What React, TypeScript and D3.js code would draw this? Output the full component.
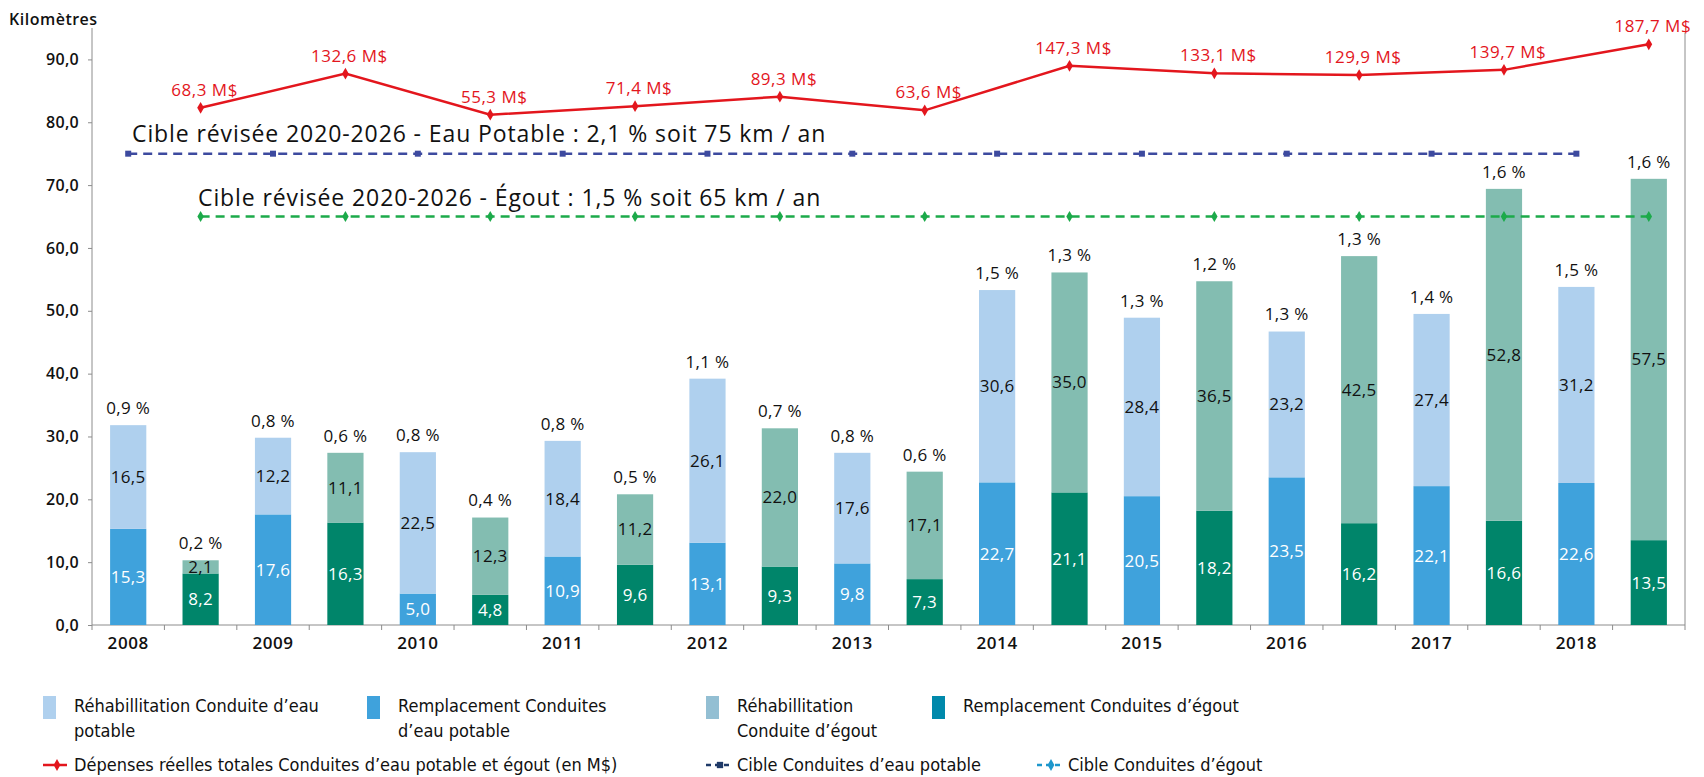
import React, { useRef, useEffect } from "react";
import * as d3 from "d3";

// Kilomètres de conduites, par année
const years = ["2008", "2009", "2010", "2011", "2012", "2013", "2014", "2015", "2016", "2017", "2018"];
const eauRemplacement = [15.3, 17.6, 5.0, 10.9, 13.1, 9.8, 22.7, 20.5, 23.5, 22.1, 22.6];
const eauRehabilitation = [16.5, 12.2, 22.5, 18.4, 26.1, 17.6, 30.6, 28.4, 23.2, 27.4, 31.2];
const egoutRemplacement = [8.2, 16.3, 4.8, 9.6, 9.3, 7.3, 21.1, 18.2, 16.2, 16.6, 13.5];
const egoutRehabilitation = [2.1, 11.1, 12.3, 11.2, 22.0, 17.1, 35.0, 36.5, 42.5, 52.8, 57.5];
const pctEau = ["0,9 %", "0,8 %", "0,8 %", "0,8 %", "1,1 %", "0,8 %", "1,5 %", "1,3 %", "1,3 %", "1,4 %", "1,5 %"];
const pctEgout = ["0,2 %", "0,6 %", "0,4 %", "0,5 %", "0,7 %", "0,6 %", "1,3 %", "1,2 %", "1,3 %", "1,6 %", "1,6 %"];
const depenses = [68.3, 132.6, 55.3, 71.4, 89.3, 63.6, 147.3, 133.1, 129.9, 139.7, 187.7];
const cibleEau = 75;
const cibleEgout = 65;
const yTicks = [0, 10, 20, 30, 40, 50, 60, 70, 80, 90];

const FONT = "'Open Sans', sans-serif";
const LEGEND_FONT = "'Liberation Sans Narrow', 'DejaVu Sans Condensed', Roboto, sans-serif";

const fmt = (v: number) => v.toFixed(1).replace(".", ",");

const App = () => {
  const svgRef = useRef<SVGSVGElement>(null);

  useEffect(() => {
    const svg = d3.select(svgRef.current);
    svg.selectAll("*").remove();

    const left = 92;
    const right = 1685;
    const top = 28;
    const bottom = 625;

    const keys: string[] = [];
    years.forEach((yr) => keys.push(yr + "-eau", yr + "-egout"));

    const x = d3.scaleBand().domain(keys).range([left, right]).paddingInner(0.5).paddingOuter(0.25);
    const y = d3.scaleLinear().domain([0, 95]).range([bottom, top]);
    // échelle secondaire (M$), non affichée
    const ySpend = d3.scaleLinear().domain([0, 200]).range([y(76.52), y(93.44)]);
    const bw = x.bandwidth();
    const cx = (k: string) => (x(k) as number) + bw / 2;

    const g = svg.append("g");

    // axes
    g.append("line").attr("x1", left).attr("x2", left).attr("y1", top).attr("y2", bottom).attr("stroke", "#8c8c8c");
    g.append("line").attr("x1", right).attr("x2", right).attr("y1", top + 5).attr("y2", bottom).attr("stroke", "#8c8c8c");
    g.append("line").attr("x1", left).attr("x2", right).attr("y1", bottom).attr("y2", bottom).attr("stroke", "#8c8c8c");

    const yAxis = d3
      .axisLeft(y)
      .tickValues(yTicks)
      .tickSize(4)
      .tickSizeOuter(0)
      .tickPadding(9)
      .tickFormat((d) => fmt(d as number));
    const ya = g.append("g").attr("transform", `translate(${left},0)`).call(yAxis);
    ya.select(".domain").remove();
    ya.selectAll("line").attr("stroke", "#8c8c8c");
    ya.selectAll("text")
      .attr("fill", "#111")
      .style("font-family", FONT)
      .style("font-size", "16px")
      .style("font-weight", "600")
      .style("letter-spacing", "0.3px");

    // ticks entre les catégories
    const step = x.step();
    d3.range(keys.length + 1).forEach((i) => {
      g.append("line")
        .attr("x1", left + i * step)
        .attr("x2", left + i * step)
        .attr("y1", bottom)
        .attr("y2", bottom + 5)
        .attr("stroke", "#8c8c8c");
    });

    g.selectAll(".year")
      .data(years)
      .enter()
      .append("text")
      .attr("x", (d) => cx(d + "-eau"))
      .attr("y", bottom + 24)
      .attr("text-anchor", "middle")
      .attr("fill", "#111")
      .style("font-family", FONT)
      .style("font-size", "17px")
      .style("font-weight", "600")
      .style("letter-spacing", "0.6px")
      .text((d) => d);

    g.append("text")
      .attr("x", 9)
      .attr("y", 25)
      .attr("fill", "#111")
      .style("font-family", FONT)
      .style("font-size", "16px")
      .style("font-weight", "600")
      .style("letter-spacing", "0.5px")
      .text("Kilomètres");

    // barres empilées
    const stacks = [
      { suffix: "-eau", low: eauRemplacement, high: eauRehabilitation, cLow: "#3fa2dc", cHigh: "#afd0ee", pct: pctEau },
      { suffix: "-egout", low: egoutRemplacement, high: egoutRehabilitation, cLow: "#00856a", cHigh: "#83bdb1", pct: pctEgout },
    ];

    const label = (sel: d3.Selection<SVGTextElement, unknown, null, undefined>, color: string) =>
      sel
        .attr("text-anchor", "middle")
        .attr("dy", "0.35em")
        .attr("fill", color)
        .style("font-family", FONT)
        .style("font-size", "17px")
        .style("font-weight", "500")
        .style("letter-spacing", "0.3px");

    stacks.forEach((s) => {
      years.forEach((yr, i) => {
        const k = yr + s.suffix;
        const lo = s.low[i];
        const hi = s.high[i];
        g.append("rect")
          .attr("x", x(k) as number)
          .attr("y", y(lo))
          .attr("width", bw)
          .attr("height", y(0) - y(lo))
          .attr("fill", s.cLow);
        g.append("rect")
          .attr("x", x(k) as number)
          .attr("y", y(lo + hi))
          .attr("width", bw)
          .attr("height", y(lo) - y(lo + hi))
          .attr("fill", s.cHigh);

        label(g.append("text").attr("x", cx(k)).attr("y", y(lo / 2)), "#fff").text(fmt(lo));
        label(g.append("text").attr("x", cx(k)).attr("y", y(lo + hi / 2)), "#111").text(fmt(hi));
        label(g.append("text").attr("x", cx(k)).attr("y", y(lo + hi) - 17), "#111").text(s.pct[i]);
      });
    });

    // cibles
    const cibles = [
      { suffix: "-eau", value: cibleEau, color: "#3d4a9f", shape: d3.symbolSquare },
      { suffix: "-egout", value: cibleEgout, color: "#1caa4a", shape: d3.symbolDiamond },
    ];
    cibles.forEach((c) => {
      const pts = years.map((yr) => [cx(yr + c.suffix), y(c.value)] as [number, number]);
      g.append("path")
        .attr("d", d3.line()(pts) as string)
        .attr("fill", "none")
        .attr("stroke", c.color)
        .attr("stroke-width", 2.5)
        .attr("stroke-dasharray", "9,6");
      pts.forEach((p) => {
        g.append("path")
          .attr("d", d3.symbol().type(c.shape).size(36)() as string)
          .attr("transform", `translate(${p[0]},${p[1]})`)
          .attr("fill", c.color);
      });
    });

    const annot = [
      { text: "Cible révisée 2020-2026 - Eau Potable : 2,1 % soit 75 km / an", x: 132, y: 142 },
      { text: "Cible révisée 2020-2026 - Égout : 1,5 % soit 65 km / an", x: 198, y: 206 },
    ];
    annot.forEach((a) => {
      g.append("text")
        .attr("x", a.x)
        .attr("y", a.y)
        .attr("fill", "#111")
        .style("font-family", FONT)
        .style("font-size", "23px")
        .style("font-weight", "500")
        .style("letter-spacing", "0.9px")
        .text(a.text);
    });

    // dépenses (M$)
    const red = "#e3161d";
    const spendPts = years.map((yr, i) => [cx(yr + "-egout"), ySpend(depenses[i])] as [number, number]);
    g.append("path")
      .attr("d", d3.line()(spendPts) as string)
      .attr("fill", "none")
      .attr("stroke", red)
      .attr("stroke-width", 2.5);
    spendPts.forEach((p, i) => {
      g.append("path")
        .attr("d", d3.symbol().type(d3.symbolDiamond).size(40)() as string)
        .attr("transform", `translate(${p[0]},${p[1]})`)
        .attr("fill", red);
      g.append("text")
        .attr("x", p[0] + 4)
        .attr("y", p[1] - 12)
        .attr("text-anchor", "middle")
        .attr("fill", red)
        .style("font-family", FONT)
        .style("font-size", "17px")
        .style("font-weight", "500")
        .style("letter-spacing", "0.5px")
        .text(fmt(depenses[i]) + " M$");
    });

    // légende
    const leg = svg.append("g").style("font-family", LEGEND_FONT).style("font-size", "18px").attr("fill", "#111");
    const swatches = [
      { x: 43, color: "#afd0ee", lines: ["Réhabillitation Conduite d’eau", "potable"] },
      { x: 367, color: "#3fa2dc", lines: ["Remplacement Conduites", "d’eau potable"] },
      { x: 706, color: "#93bfd3", lines: ["Réhabillitation", "Conduite d’égout"] },
      { x: 932, color: "#0089ab", lines: ["Remplacement Conduites d’égout"] },
    ];
    swatches.forEach((s) => {
      leg.append("rect").attr("x", s.x).attr("y", 696).attr("width", 13).attr("height", 23).attr("fill", s.color);
      s.lines.forEach((l, j) => {
        leg.append("text").attr("x", s.x + 31).attr("y", 712 + j * 25).text(l);
      });
    });

    const lineItems = [
      { x: 43, color: red, shape: d3.symbolDiamond, dash: null, text: "Dépenses réelles totales Conduites d’eau potable et égout (en M$)" },
      { x: 706, color: "#1f3a68", shape: d3.symbolSquare, dash: "5,4", text: "Cible Conduites d’eau potable" },
      { x: 1037, color: "#1e97cc", shape: d3.symbolDiamond, dash: "5,4", text: "Cible Conduites d’égout" },
    ];
    lineItems.forEach((it) => {
      leg.append("line")
        .attr("x1", it.x)
        .attr("x2", it.x + 24)
        .attr("y1", 765)
        .attr("y2", 765)
        .attr("stroke", it.color)
        .attr("stroke-width", 2.5)
        .attr("stroke-dasharray", it.dash);
      leg.append("path")
        .attr("d", d3.symbol().type(it.shape).size(40)() as string)
        .attr("transform", `translate(${it.x + 14},765)`)
        .attr("fill", it.color);
      leg.append("text").attr("x", it.x + 31).attr("y", 771).text(it.text);
    });
  }, []);

  return (
    <svg
      ref={svgRef}
      width={1704}
      height={777}
      style={{ position: "absolute", left: 0, top: 0, display: "block", background: "#fff" }}
    ></svg>
  );
};

export default App;
